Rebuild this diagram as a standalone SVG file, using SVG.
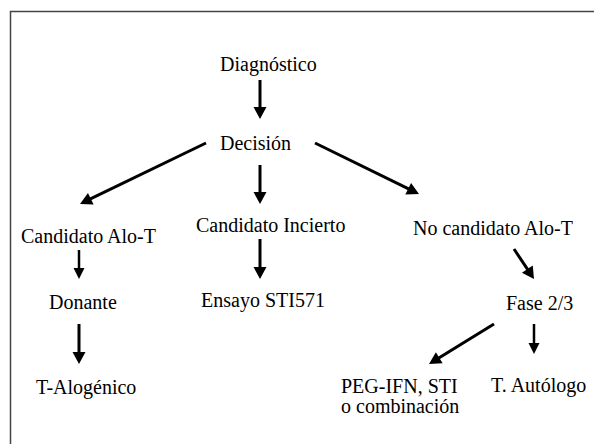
<svg xmlns="http://www.w3.org/2000/svg" width="594" height="444" viewBox="0 0 594 444">
  <style>
    text { font-family: 'Liberation Serif', 'Times New Roman', serif; font-size: 20px; fill: #000; }
    .edge { stroke: #000; stroke-width: 3; fill: none; }
    .edge-s { stroke: #000; stroke-width: 2.5; fill: none; }
    .frame { stroke: #444; stroke-width: 1.5; fill: none; }
  </style>
  <defs>
    <marker id="head" markerUnits="userSpaceOnUse" markerWidth="13" markerHeight="14" refX="1" refY="6.5" orient="auto" overflow="visible">
      <path d="M0,0 L12,6.5 L0,13 Z" fill="#000"/>
    </marker>
    <marker id="head-s" markerUnits="userSpaceOnUse" markerWidth="12" markerHeight="12" refX="1" refY="5.5" orient="auto" overflow="visible">
      <path d="M0,0 L11,5.5 L0,11 Z" fill="#000"/>
    </marker>
  </defs>
  <rect width="594" height="444" fill="#fff"/>
  <!-- open frame: left and top edges -->
  <path class="frame" d="M10.5,445 V11.5 H595"/>

  <g id="connectors">
    <line class="edge" x1="260" y1="80" x2="260" y2="108" marker-end="url(#head)"/>
    <line class="edge" x1="206" y1="143" x2="89.9" y2="199.2" marker-end="url(#head)"/>
    <line class="edge" x1="260" y1="165" x2="260" y2="193" marker-end="url(#head)"/>
    <line class="edge" x1="315" y1="143" x2="409.1" y2="189.2" marker-end="url(#head)"/>
    <line class="edge-s" x1="79" y1="250" x2="79" y2="269" marker-end="url(#head-s)"/>
    <line class="edge" x1="79" y1="324" x2="79" y2="353" marker-end="url(#head)"/>
    <line class="edge" x1="260" y1="239" x2="260" y2="268" marker-end="url(#head)"/>
    <line class="edge" x1="514" y1="249" x2="527.9" y2="269.9" marker-end="url(#head)"/>
    <line class="edge" x1="494" y1="324" x2="438.4" y2="358.2" marker-end="url(#head)"/>
    <line class="edge-s" x1="534" y1="324" x2="534" y2="344" marker-end="url(#head-s)"/>
  </g>

  <g id="diagnostico"><text x="220" y="71">Diagnóstico</text></g>
  <g id="decision"><text x="220" y="150">Decisión</text></g>
  <g id="candidato-alo"><text x="21" y="243">Candidato Alo-T</text></g>
  <g id="candidato-incierto"><text x="196" y="232">Candidato Incierto</text></g>
  <g id="no-candidato"><text x="413" y="235">No candidato Alo-T</text></g>
  <g id="donante"><text x="49" y="309">Donante</text></g>
  <g id="ensayo"><text x="201" y="307">Ensayo STI571</text></g>
  <g id="fase"><text x="506" y="310">Fase 2/3</text></g>
  <g id="t-alogenico"><text x="36" y="394">T-Alogénico</text></g>
  <g id="peg-ifn"><text x="341" y="393">PEG-IFN, STI<tspan x="341" y="413">o combinación</tspan></text></g>
  <g id="t-autologo"><text x="491" y="392">T. Autólogo</text></g>
</svg>
